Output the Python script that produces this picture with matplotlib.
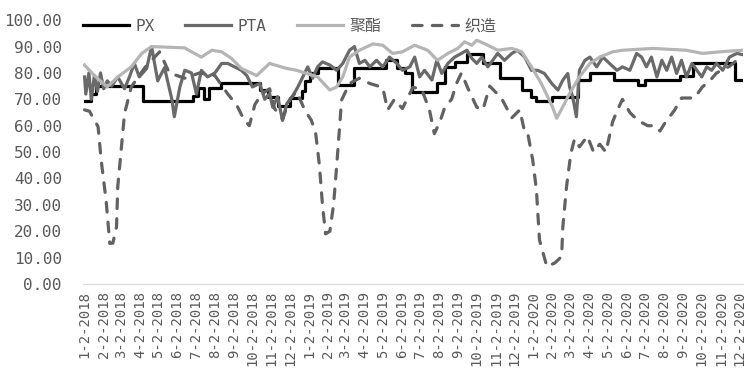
import numpy as np
import pandas as pd
import matplotlib
matplotlib.use("Agg")
import matplotlib.pyplot as plt
import matplotlib.dates as mdates
from matplotlib.ticker import FuncFormatter

plt.rcParams['font.family'] = ['DejaVu Sans Mono', 'Noto Sans CJK SC']

# data: days counted from 2 Jan 2018
start = pd.Timestamp('2018-01-02')

px_day = [0, 11, 19, 95, 176, 184, 195, 203, 222, 285, 298, 314, 334, 353, 358, 366,
          379, 412, 439, 491, 508, 521, 532, 574, 586, 602, 622, 648, 675, 711, 727,
          735, 761, 802, 822, 862, 900, 911, 968, 989, 1058, 1069]
px_val = [69.5, 72, 75, 69.5, 71.2, 74.3, 70.3, 74.3, 76.2, 73.5, 71, 67.5, 70.5, 73.2, 77, 80,
          82, 75.5, 82, 85, 82, 79.8, 72.9, 76, 82.3, 84.2, 87, 83.6, 77.9, 73.5, 71,
          69.5, 70.7, 77.3, 79.8, 77.5, 75.4, 77.5, 79, 83.6, 77.3, 77.3]

pta_day = [0, 2, 7, 11, 16, 21, 26, 31, 37, 44, 54, 65, 73, 81, 89, 101, 109, 119, 130, 142,
           146, 155, 163, 174, 182, 190, 200, 212, 223, 233, 244, 255, 264, 273, 285, 293,
           301, 306, 314, 322, 329, 338, 347, 355, 363, 371, 379, 387, 399, 410, 420, 431,
           439, 447, 456, 464, 475, 485, 496, 508, 517, 529, 537, 545, 553, 565, 573, 581,
           591, 602, 613, 622, 630, 638, 646, 656, 664, 672, 683, 695, 704, 716, 727, 737,
           748, 760, 770, 778, 786, 789, 794, 800, 805, 814, 822, 833, 843, 854, 866, 875,
           887, 898, 906, 914, 922, 931, 939, 947, 955, 963, 971, 979, 988, 996, 1004, 1012,
           1020, 1028, 1038, 1049, 1061, 1069]
pta_val = [78.5, 72, 80, 70, 79, 73, 80, 74, 77, 75, 78.5, 74, 78.5, 83.6, 78.5, 81.7, 90, 77, 82, 70,
           63.4, 74.7, 81, 80, 72, 81, 78.5, 80, 83.6, 83.6, 82.3, 81, 79, 74.7, 76, 70,
           72.2, 67, 71, 62, 68.4, 71, 74.7, 78.5, 82.3, 78, 82.3, 84.2, 83, 81, 83.6, 88.6,
           90, 83.6, 84.8, 82.3, 84.8, 82.3, 86, 83.6, 81, 82.3, 86, 78.5, 81, 77.3, 84.8, 79.8,
           83.6, 86, 87.4, 88.6, 85.5, 83.6, 86, 82.3, 84.8, 87.4, 84.8, 87.4, 88.6, 86, 81, 81,
           79.8, 76, 73.5, 77.3, 79.8, 74.7, 71, 63.4, 81, 84.8, 86, 82.3, 86, 83.6, 81, 82.3,
           81, 87.4, 86, 82.3, 86, 78.5, 84.8, 81, 86, 79.8, 84.8, 78.5, 83.6, 81, 78.5, 82.3,
           81, 83.6, 81, 86, 87.4, 87]

polyester_day = [0, 16, 37, 54, 76, 93, 109, 163, 174, 190, 207, 223, 239, 255, 280, 301,
                 329, 345, 361, 379, 399, 410, 420, 431, 447, 469, 485, 501, 517, 537, 558,
                 574, 591, 607, 618, 630, 638, 656, 672, 695, 711, 727, 743, 761, 768, 778,
                 789, 805, 822, 838, 859, 875, 924, 979, 1005, 1033, 1069]
polyester_val = [83, 79, 74.7, 78.5, 82.3, 87.4, 90, 89.5, 88, 86, 88.6, 88, 85.5, 81.7, 79, 83.6,
                 81.7, 81, 79.8, 78.5, 73.5, 74.7, 78.5, 86, 88.6, 91, 90.5, 87.4, 88, 90.5, 88.6,
                 84.8, 87.4, 89.3, 91.8, 90.5, 92.4, 90.5, 88.6, 89.3, 88, 82.3, 76, 67.2, 62.8, 67.2,
                 72.2, 78.5, 83.6, 86, 88, 88.6, 89.3, 88.6, 87.4, 88, 88.6]

weaving_day = [0, 8, 22, 27, 35, 41, 46, 52, 54, 60, 65, 76, 98, 122, 138, 163, 187, 212, 233,
               247, 260, 268, 277, 288, 301, 309, 322, 334, 345, 358, 369, 376, 382, 387, 392,
               399, 405, 410, 415, 418, 431, 447, 464, 485, 493, 504, 517, 534, 548, 561, 569,
               578, 586, 597, 605, 613, 623, 638, 648, 659, 678, 695, 708, 716, 721, 729, 735,
               740, 752, 765, 776, 778, 784, 791, 797, 805, 818, 828, 838, 848, 859, 867, 875,
               887, 900, 916, 927, 936, 944, 960, 971, 992, 1005, 1017, 1028, 1049, 1061, 1069]
weaving_val = [66, 65.5, 59.6, 47, 31.8, 15.4, 15.5, 21.7, 36.9, 52, 64.6, 74.7, 82, 88, 80, 78, 80, 79, 72,
               68, 62, 60, 68, 72, 74, 66.5, 62.5, 70, 73, 66, 62, 57, 45, 30, 19,
               20, 30, 44.5, 60, 69.7, 76, 78, 76, 74.5, 66, 70, 66.5, 74.5, 74, 66, 57,
               61.5, 67, 70, 76, 80, 74.5, 67, 66, 75, 70.5, 63, 66, 57.5, 57, 47, 35.6,
               16.7, 6.6, 8, 10.4, 21.7, 36.9, 49.5, 55, 52, 56, 50, 53, 50, 61.5, 66, 70,
               65, 62, 60, 60, 58, 61, 66, 70.5, 70.5, 74.7, 77, 80, 82.5, 84.8, 85]

labels = ['PX', 'PTA', '聚酯', '织造']


def to_dates(days):
    return start + pd.to_timedelta(days, unit='D')


#plot face
fig = plt.figure(figsize=(7.52, 3.88), dpi=100)
ax = fig.add_axes([0.110, 0.268, 0.878, 0.680])

ax.plot(to_dates(px_day), px_val, color='black', lw=2.3, drawstyle='steps-post', label=labels[0])
ax.plot(to_dates(pta_day), pta_val, color='#6a6a6a', lw=2.3, label=labels[1])
ax.plot(to_dates(polyester_day), polyester_val, color='#b5b5b5', lw=2.3, label=labels[2])
ax.plot(to_dates(weaving_day), weaving_val, color='#626262', lw=2.3, dashes=(3, 3.2),
        dash_capstyle='round', label=labels[3])

ax.set_ylim(0, 100)
ax.set_yticks(np.arange(0, 101, 10))
ax.yaxis.set_major_formatter(FuncFormatter(lambda v, p: f"{v:.2f}"))

ax.set_xlim(start - pd.Timedelta(days=3), start + pd.Timedelta(days=1071))
ax.xaxis.set_major_locator(mdates.MonthLocator(bymonthday=2))
ax.xaxis.set_major_formatter(FuncFormatter(
    lambda v, p: (lambda d: f"{d.month}-{d.day}-{d.year}")(mdates.num2date(v))))

for s in ['top', 'right', 'left']:
    ax.spines[s].set_visible(False)
ax.spines['bottom'].set_color('#d9d9d9')
ax.tick_params(length=0, colors='#595959')
ax.tick_params(axis='y', labelsize=11.5, pad=15)
ax.tick_params(axis='x', labelsize=10, rotation=90, pad=5)

fig.legend(loc='center', bbox_to_anchor=(0.385, 0.932), ncol=4, frameon=False,
           fontsize=11.5, handlelength=2.9, columnspacing=1.9, handletextpad=0.4,
           labelcolor='#595959')

plt.savefig('out.png', dpi=100)
